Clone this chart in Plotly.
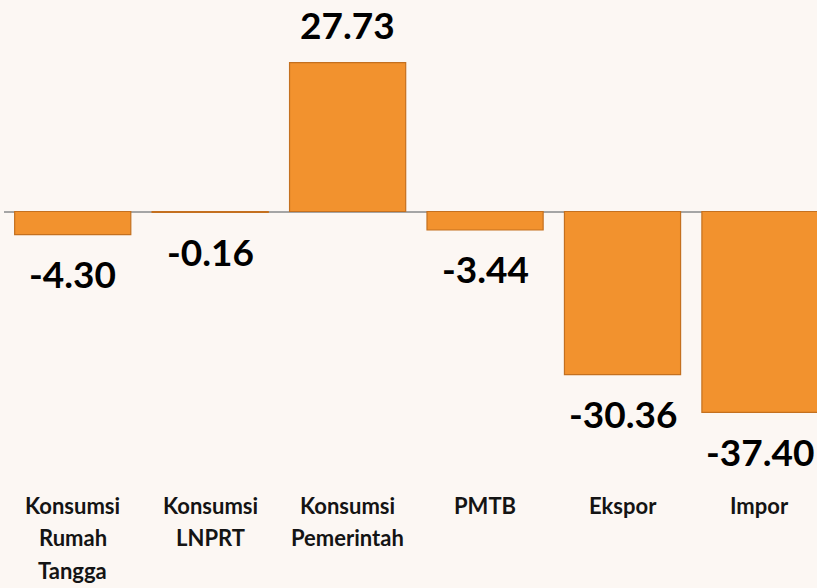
import plotly.graph_objects as go

categories = ["Konsumsi<br>Rumah<br>Tangga", "Konsumsi<br>LNPRT", "Konsumsi<br>Pemerintah",
              "PMTB", "Ekspor", "Impor"]
values = [-4.30, -0.16, 27.73, -3.44, -30.36, -37.40]
value_labels = ["-4.30", "-0.16", "27.73", "-3.44", "-30.36", "-37.40"]

BG = "#FCF7F3"
FONT = "Lato"

x_idx = list(range(len(categories)))

fig = go.Figure()
fig.add_trace(go.Bar(
    x=x_idx, y=values,
    width=0.845,
    marker=dict(color="#F2922E", line=dict(color="#C4701F", width=1.2)),
    hoverinfo="skip",
))

annotations = []
for i, (v, t) in enumerate(zip(values, value_labels)):
    annotations.append(dict(
        x=i, y=v, xref="x", yref="y", text=f"<b>{t}</b>", showarrow=False,
        yanchor="middle", xanchor="center",
        yshift=38 if v > 0 else -39,
        font=dict(family=FONT, size=37, color="#000000"),
    ))

for i, cat in enumerate(categories):
    for j, line in enumerate(cat.split("<br>")):
        annotations.append(dict(
            x=i, y=0, xref="x", yref="paper", text=f"<b>{line}</b>", showarrow=False,
            yanchor="middle", xanchor="center",
            yshift=-(25 + j * 32.5),
            font=dict(family=FONT, size=22, color="#141414"),
        ))

fig.update_layout(
    width=817, height=588,
    margin=dict(l=4, r=0, t=0, b=108),
    paper_bgcolor=BG, plot_bgcolor=BG,
    showlegend=False,
    bargap=0.155,
    xaxis=dict(range=[-0.5, 5.415], showticklabels=False, showgrid=False,
               zeroline=False, showline=False, fixedrange=True),
    yaxis=dict(range=[-50.0, 39.39], showticklabels=False, showgrid=False,
               zeroline=True, zerolinecolor="#A5A5A5", zerolinewidth=1.5,
               showline=False, fixedrange=True),
    annotations=annotations,
)

fig.write_html("out.html", config={"displayModeBar": False})

with open("out.html", "r", encoding="utf-8") as f:
    html = f.read()
html = html.replace("<head>", "<head><style>html,body{margin:0;padding:0;overflow:hidden;background:%s}</style>" % BG, 1)
with open("out.html", "w", encoding="utf-8") as f:
    f.write(html)
